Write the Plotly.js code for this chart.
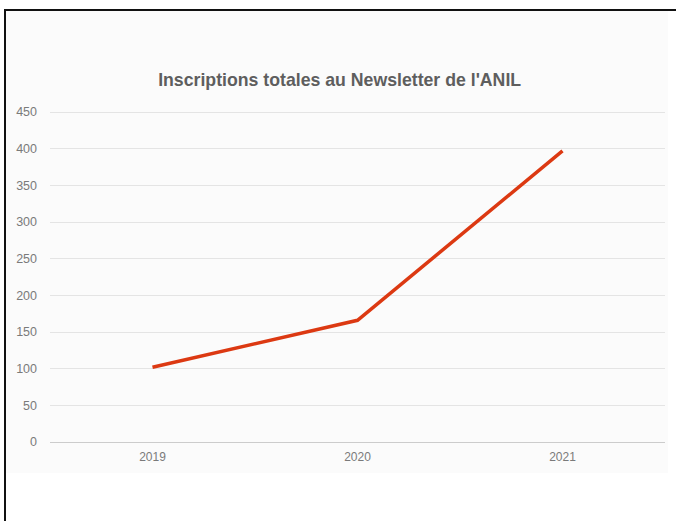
<!DOCTYPE html>
<html>
<head>
<meta charset="utf-8">
<script src="https://cdn.plot.ly/plotly-3.0.1.min.js"></script>
<style>
  html, body { margin: 0; padding: 0; background: #ffffff; width: 676px; height: 521px; overflow: hidden; }
  #frame { position: absolute; left: 4px; top: 9px; width: 672px; height: 512px;
           border-left: 2px solid #111; border-top: 2px solid #111; box-sizing: border-box; }
  #chart { position: absolute; left: 6px; top: 11px; width: 662px; height: 462px; }
</style>
</head>
<body>
<div id="frame"></div>
<div id="chart"></div>
<script>
const years = ['2019', '2020', '2021'];
const inscriptions = [102, 166, 397];
const yTicks = [0, 50, 100, 150, 200, 250, 300, 350, 400, 450];
const chartTitle = "Inscriptions totales au Newsletter de l'ANIL";

const trace = {
  x: years,
  y: inscriptions,
  type: 'scatter',
  mode: 'lines',
  line: { color: '#dc3912', width: 3.5 },
  hoverinfo: 'x+y'
};

const layout = {
  width: 662,
  height: 462,
  margin: { l: 44, r: 3, t: 100, b: 31 },
  paper_bgcolor: '#fbfbfb',
  plot_bgcolor: '#fbfbfb',
  showlegend: false,
  title: {
    text: '<b>' + chartTitle + '</b>',
    font: { family: 'Liberation Sans, Arial, sans-serif', size: 17.7, color: '#5e5e5e' },
    x: 0.504, xref: 'container', xanchor: 'center',
    y: 1 - 69 / 462, yref: 'container', yanchor: 'middle'
  },
  xaxis: {
    type: 'category',
    range: [-0.5, 2.5],
    showgrid: false,
    zeroline: false,
    showline: false,
    ticks: '',
    ticklabelstandoff: 6,
    tickfont: { family: 'Liberation Sans, Arial, sans-serif', size: 12, color: '#7a7a7a' }
  },
  yaxis: {
    range: [0, 451.5],
    tickvals: yTicks,
    ticktext: yTicks.map(String),
    showgrid: true,
    gridcolor: '#e4e4e4',
    gridwidth: 1,
    zeroline: true,
    zerolinecolor: '#cccccc',
    zerolinewidth: 1,
    showline: false,
    ticks: '',
    ticklabelstandoff: 12,
    tickfont: { family: 'Liberation Sans, Arial, sans-serif', size: 12.5, color: '#7a7a7a' }
  }
};

Plotly.newPlot('chart', [trace], layout, { displayModeBar: false, staticPlot: true });
</script>
</body>
</html>
